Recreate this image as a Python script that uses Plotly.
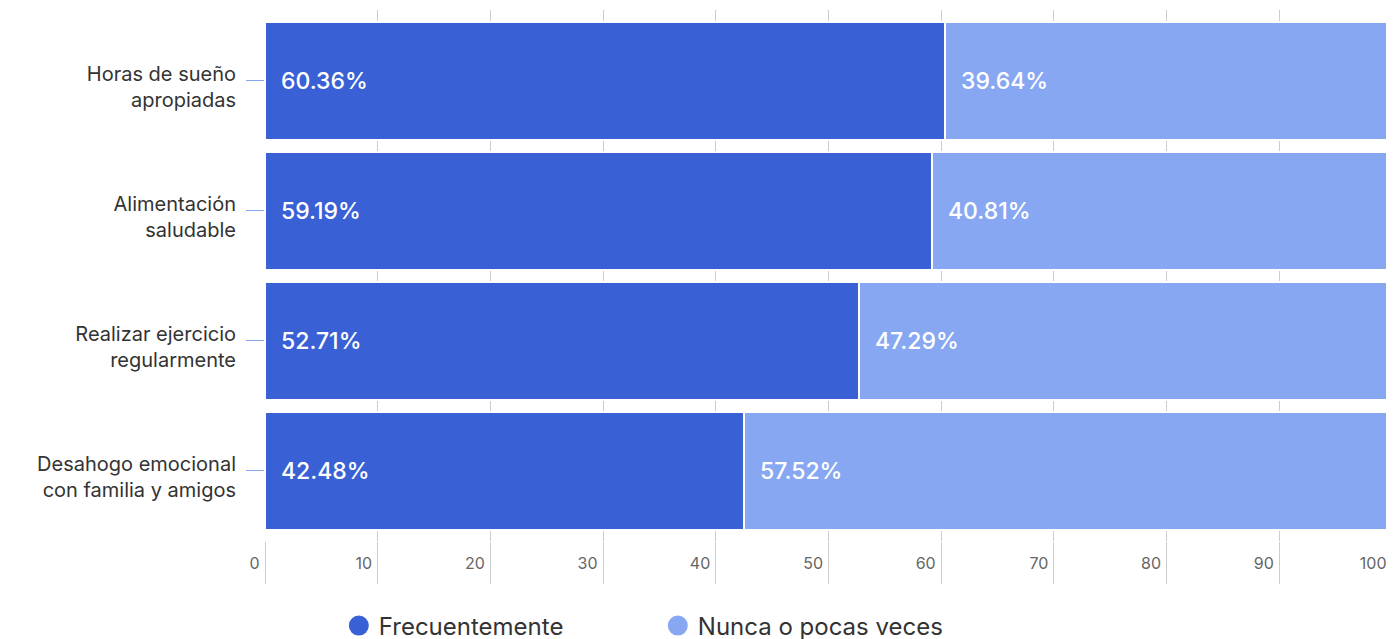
import plotly.graph_objects as go

categories = ["Horas de sueño<br>apropiadas", "Alimentación<br>saludable",
              "Realizar ejercicio<br>regularmente", "Desahogo emocional<br>con familia y amigos"]
frecuentemente = [60.36, 59.19, 52.71, 42.48]
nunca = [39.64, 40.81, 47.29, 57.52]
series_names = ["Frecuentemente", "Nunca o pocas veces"]
x_ticks = [0, 10, 20, 30, 40, 50, 60, 70, 80, 90, 100]

DARK = "#3a60d6"
LIGHT = "#88a7f2"
FONT = "Inter, Lato, sans-serif"

fig = go.Figure()
for name, vals, col in [(series_names[0], frecuentemente, DARK), (series_names[1], nunca, LIGHT)]:
    fig.add_trace(go.Bar(
        y=categories, x=vals, orientation="h", name=name,
        marker=dict(color=col, line=dict(color="white", width=2)),
        showlegend=False, hoverinfo="x+name",
    ))
    # legend-only entries with circle symbols
    fig.add_trace(go.Scatter(
        x=[None], y=[None], mode="markers", name=name,
        marker=dict(color=col, size=16, symbol="circle", line=dict(color=col, width=4)),
        showlegend=True,
    ))

# value labels inside bars, starting at each segment's base
for i, cat in enumerate(categories):
    for base, val in [(0, frecuentemente[i]), (frecuentemente[i], nunca[i])]:
        fig.add_annotation(
            x=base, y=cat, xref="x", yref="y", text=f"{val:.2f}%",
            showarrow=False, xanchor="left", xshift=14,
            font=dict(family=FONT, size=23, color="white", weight=500),
        )

fig.update_layout(
    width=1394, height=639,
    barmode="stack", bargap=0.09,
    paper_bgcolor="white", plot_bgcolor="white",
    margin=dict(l=257, r=10, t=2, b=106, autoexpand=False),
    font=dict(family=FONT),
    legend=dict(orientation="h", traceorder="normal", x=0.0655, xanchor="left",
                y=-0.160, yanchor="middle",
                font=dict(family=FONT, size=24, color="#333333"),
                entrywidth=274, entrywidthmode="pixels", itemsizing="trace"),
    xaxis=dict(range=[0, 100], tickvals=x_ticks, showgrid=True, gridcolor="#cccccc",
               gridwidth=1, zeroline=False, showline=False,
               ticks="outside", ticklen=42, tickcolor="#cccccc", tickwidth=1,
               ticklabelposition="outside left", ticklabelstandoff=8, ticklabelshift=-5,
               tickfont=dict(family=FONT, size=16, color="#666666")),
    yaxis=dict(categoryorder="array", categoryarray=categories,
               range=[3.54, -0.546], autorange=False, showgrid=False, zeroline=False,
               ticks="outside", ticklen=18, tickcolor=LIGHT, tickwidth=1,
               ticklabelstandoff=6, ticklabelshift=-6,
               tickfont=dict(family=FONT, size=20, color="#333333")),
)

fig.write_html("out.html")
